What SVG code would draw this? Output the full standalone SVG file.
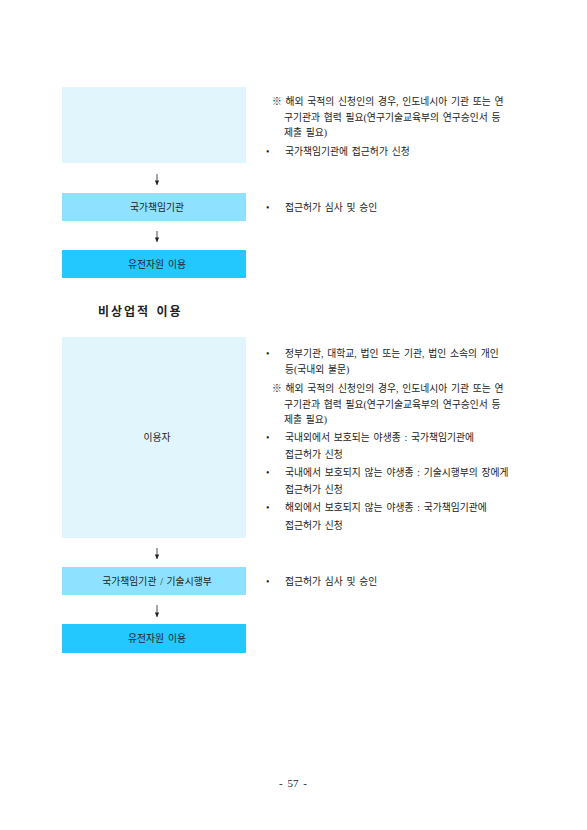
<svg xmlns="http://www.w3.org/2000/svg" width="587" height="830" viewBox="0 0 587 830">
<defs>
<marker id="ah" markerWidth="6" markerHeight="6" refX="5" refY="3" orient="auto" markerUnits="userSpaceOnUse">
<path d="M0.5,0.8 L5,3 L0.5,5.2 Z" fill="#222"/>
</marker>
</defs>
<style>
text{font-family:"Liberation Serif","Noto Sans CJK KR",serif;font-size:9.8px;fill:#222;}
.c{text-anchor:middle;dominant-baseline:central;}
.r{dominant-baseline:central;word-spacing:1.3px;}
.h{font-size:12px;font-weight:bold;letter-spacing:2px;}
.pg{font-size:11px;word-spacing:2px;}
.b1{fill:#E1F5FC;}
.b2{fill:#8FE2FF;}
.b3{fill:#22C8FF;}
.arr{stroke:#222;stroke-width:0.8;fill:none;marker-end:url(#ah);}
</style>
<rect width="587" height="830" fill="#ffffff"/>

<g id="applicant1">
<rect class="b1" x="62" y="87" width="184" height="76"/>
</g>
<g id="agency1">
<rect class="b2" x="62" y="193" width="184" height="28"/>
<text class="c" x="157" y="207">국가책임기관</text>
</g>
<g id="use1">
<rect class="b3" x="62" y="250" width="184" height="28"/>
<text class="c" x="157" y="264" style="word-spacing:1.3px">유전자원 이용</text>
</g>

<g id="notes1">
<text class="r" x="272" y="101">※ 해외 국적의 신청인의 경우, 인도네시아 기관 또는 연</text>
<text class="r" x="284" y="117">구기관과 협력 필요(연구기술교육부의 연구승인서 등</text>
<text class="r" x="284" y="132">제출 필요)</text>
<text class="r" x="266" y="151">•</text>
<text class="r" x="285" y="151">국가책임기관에 접근허가 신청</text>
<text class="r" x="266" y="207">•</text>
<text class="r" x="285" y="207">접근허가 심사 및 승인</text>
</g>

<text class="r h" x="98" y="312">비상업적 이용</text>

<g id="applicant2">
<rect class="b1" x="62" y="337" width="184" height="201"/>
<text class="c" x="157" y="437">이용자</text>
</g>
<g id="agency2">
<rect class="b2" x="62" y="567" width="184" height="28"/>
<text class="c" x="157" y="581" style="word-spacing:1.3px">국가책임기관 / 기술시행부</text>
</g>
<g id="use2">
<rect class="b3" x="62" y="624" width="184" height="29"/>
<text class="c" x="157" y="638" style="word-spacing:1.3px">유전자원 이용</text>
</g>

<g id="notes2">
<text class="r" x="266" y="353">•</text>
<text class="r" x="285" y="353">정부기관, 대학교, 법인 또는 기관, 법인 소속의 개인</text>
<text class="r" x="285" y="369">등(국내외 불문)</text>
<text class="r" x="272" y="388">※ 해외 국적의 신청인의 경우, 인도네시아 기관 또는 연</text>
<text class="r" x="284" y="404">구기관과 협력 필요(연구기술교육부의 연구승인서 등</text>
<text class="r" x="284" y="419">제출 필요)</text>
<text class="r" x="266" y="437">•</text>
<text class="r" x="285" y="437">국내외에서 보호되는 야생종 : 국가책임기관에</text>
<text class="r" x="285" y="454">접근허가 신청</text>
<text class="r" x="266" y="472">•</text>
<text class="r" x="285" y="472">국내에서 보호되지 않는 야생종 : 기술시행부의 장에게</text>
<text class="r" x="285" y="489">접근허가 신청</text>
<text class="r" x="266" y="507">•</text>
<text class="r" x="285" y="507">해외에서 보호되지 않는 야생종 : 국가책임기관에</text>
<text class="r" x="285" y="525">접근허가 신청</text>
<text class="r" x="266" y="581">•</text>
<text class="r" x="285" y="581">접근허가 심사 및 승인</text>
</g>

<g id="connectors">
<line class="arr" x1="157" y1="174" x2="157" y2="185"/>
<line class="arr" x1="157" y1="231" x2="157" y2="242"/>
<line class="arr" x1="157" y1="548" x2="157" y2="559"/>
<line class="arr" x1="157" y1="605" x2="157" y2="617"/>
</g>

<text class="c pg" x="293" y="783">- 57 -</text>
</svg>
